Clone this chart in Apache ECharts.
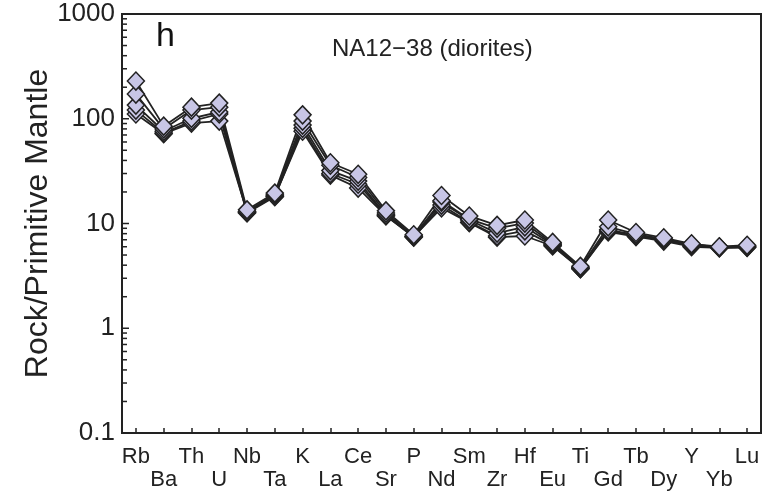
<!DOCTYPE html>
<html>
<head>
<meta charset="utf-8">
<script src="https://cdn.jsdelivr.net/npm/echarts@6/dist/echarts.min.js"></script>
<style>
html,body{margin:0;padding:0;background:#fff;}
#chart{width:768px;height:495px;}
</style>
</head>
<body>
<div id="chart"></div>
<script>
const elements = ['Rb','Ba','Th','U','Nb','Ta','K','La','Ce','Sr','P','Nd','Sm','Zr','Hf','Eu','Ti','Gd','Tb','Dy','Y','Yb','Lu'];
const sampleA = [229, 85, 129, 141, 13.5, 19.5, 109, 38, 29.5, 13.2, 7.8, 18.5, 11.8, 9.6, 10.8, 6.6, 3.9, 10.8, 8.2, 7.3, 6.4, 6.0, 6.2];
const sampleB = [172, 80, 121, 129, 13.0, 19.0, 95, 36, 27.5, 12.6, 7.6, 16.5, 11.0, 9.0, 10.1, 6.4, 3.8, 9.3, 7.9, 7.1, 6.3, 5.95, 6.1];
const sampleC = [135, 76, 101, 116, 12.8, 18.5, 87, 32, 25.4, 12.1, 7.5, 16.0, 10.8, 8.1, 9.3, 6.3, 3.75, 8.7, 7.8, 7.0, 6.2, 5.9, 6.0];
const sampleD = [121, 73, 95, 111, 12.6, 18.0, 81, 30, 23.7, 12.0, 7.4, 15.0, 10.3, 7.6, 8.5, 6.2, 3.7, 8.5, 7.6, 6.9, 6.1, 5.9, 5.95];
const sampleE = [111, 72, 91, 95, 12.9, 18.2, 76, 29, 21.8, 11.8, 7.5, 14.1, 10.2, 7.4, 7.6, 6.1, 3.7, 8.3, 7.5, 6.8, 6.0, 5.85, 5.9];
const yTickLabels = [0.1, 1, 10, 100, 1000];
const yMinorTicks = [0.2,0.3,0.4,0.5,0.6,0.7,0.8,0.9,2,3,4,5,6,7,8,9,20,30,40,50,60,70,80,90,200,300,400,500,600,700,800,900];
const samples = [sampleE, sampleD, sampleC, sampleB, sampleA];

const chart = echarts.init(document.getElementById('chart'), null, {renderer: 'canvas'});
const FONT = 'Liberation Sans, Arial, sans-serif';

const tickData = yTickLabels.map(v => [0, v, 7]).concat(yMinorTicks.map(v => [0, v, 5]));

chart.setOption({
  animation: false,
  grid: {left: 122, right: 7, top: 14, bottom: 62, show: true, borderColor: '#222', borderWidth: 2, backgroundColor: 'transparent'},
  xAxis: {
    type: 'category',
    data: elements,
    boundaryGap: true,
    axisLine: {show: true, lineStyle: {color: '#222', width: 2}},
    axisTick: {show: true, inside: true, alignWithLabel: true, length: 5, lineStyle: {color: '#222', width: 1.5}},
    axisLabel: {
      interval: 0, margin: 12, fontSize: 22, lineHeight: 23, color: '#222', fontFamily: FONT,
      formatter: (v, i) => (i % 2 ? '\n' + v : v)
    },
    splitLine: {show: false}
  },
  yAxis: {
    type: 'log',
    logBase: 10,
    min: 0.1,
    max: 1000,
    name: 'Rock/Primitive Mantle',
    nameLocation: 'middle',
    nameGap: 68,
    nameMoveOverlap: false,
    nameTextStyle: {fontSize: 32, color: '#222', fontFamily: FONT},
    axisLine: {show: true, lineStyle: {color: '#222', width: 2}},
    axisTick: {show: false},
    axisLabel: {fontSize: 26, color: '#222', margin: 7, fontFamily: FONT, customValues: yTickLabels,
      formatter: v => String(v)},
    splitLine: {show: false},
    minorTick: {show: false}
  },
  graphic: [
    {type: 'text', left: 156, top: 20, style: {text: 'h', font: '34px ' + FONT, fill: '#111'}},
    {type: 'text', left: 332, top: 37, style: {text: 'NA12\u221238 (diorites)', font: '24px ' + FONT, fill: '#222'}}
  ],
  series: samples.map(d => ({
    type: 'line',
    data: d,
    symbol: 'diamond',
    symbolSize: [17, 18],
    showSymbol: true,
    lineStyle: {color: '#222', width: 1.8},
    itemStyle: {color: '#c8c6e6', borderColor: '#222', borderWidth: 1.5},
    z: 3
  })).concat([{
    type: 'custom',
    data: tickData,
    silent: true,
    z: 5,
    renderItem: (params, api) => {
      const p = api.coord([0, api.value(1)]);
      const x0 = params.coordSys.x;
      const len = api.value(2);
      return {type: 'line', shape: {x1: x0, y1: p[1], x2: x0 + len, y2: p[1]}, style: {stroke: '#222', lineWidth: 1.5}};
    }
  }])
});
</script>
</body>
</html>
